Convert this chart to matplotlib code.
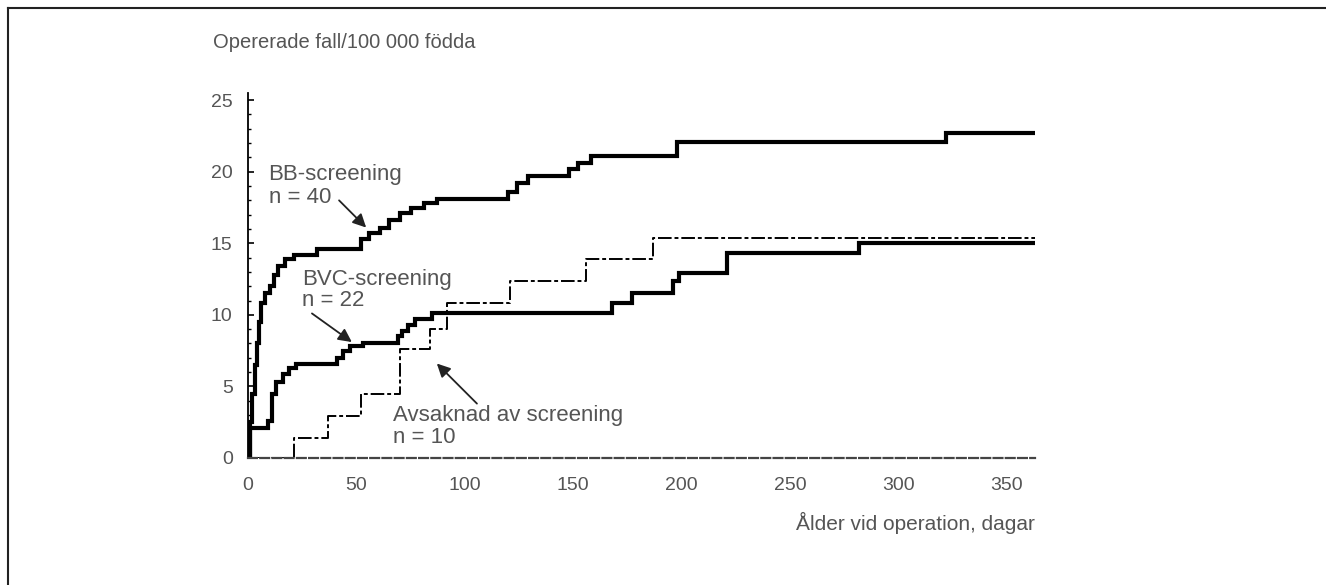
import matplotlib
matplotlib.use("Agg")
import matplotlib.pyplot as plt
from matplotlib.lines import Line2D
from matplotlib.ticker import MultipleLocator

# cumulative number of operated cases per 100 000 births, by age at operation (days)
bb_days = [0, 1, 2, 3, 4, 5, 6, 8, 10, 12, 14, 17, 21, 32, 52, 56, 61, 65, 70, 75,
           81, 87, 120, 124, 129, 148, 152, 158, 198, 322, 363]
bb_vals = [0, 2.5, 4.5, 6.5, 8.0, 9.5, 10.8, 11.5, 12.0, 12.8, 13.4, 13.9, 14.2, 14.6, 15.3, 15.7,
           16.1, 16.6, 17.1, 17.5, 17.8, 18.1, 18.6, 19.2, 19.7, 20.2, 20.6, 21.1, 22.1, 22.7, 22.7]

bvc_days = [0, 1, 9, 11, 13, 16, 19, 22, 41, 44, 47, 53, 69, 71, 74, 77, 85,
            168, 177, 196, 199, 221, 282, 363]
bvc_vals = [0, 2.1, 2.6, 4.5, 5.3, 5.9, 6.3, 6.6, 7.0, 7.5, 7.8, 8.0, 8.5, 8.9, 9.3, 9.7, 10.1,
            10.8, 11.5, 12.4, 12.9, 14.3, 15.0, 15.0]

avs_days = [0, 21, 37, 52, 70, 84, 92, 121, 156, 187, 363]
avs_vals = [0, 1.4, 2.9, 4.5, 7.6, 9.0, 10.8, 12.4, 13.9, 15.4, 15.4]

y_ticks = [0, 5, 10, 15, 20, 25]
x_ticks = [0, 50, 100, 150, 200, 250, 300, 350]

ylabel = "Opererade fall/100 000 födda"
xlabel = "Ålder vid operation, dagar"

grey = "#555555"
plt.rcParams["font.family"] = ["Liberation Sans", "DejaVu Sans"]

W, H = 1326, 585
fig = plt.figure(figsize=(W / 100, H / 100), dpi=100)
# axes placed in pixels: x=0 at 248, y=0 at 458
ax = fig.add_axes([248 / W, (H - 458) / H, 787 / W, 365 / H])

ax.step(bb_days, bb_vals, where="post", color="black", lw=3.0, solid_joinstyle="miter")
ax.step(bvc_days, bvc_vals, where="post", color="black", lw=3.0, solid_joinstyle="miter")
ax.step(avs_days, avs_vals, where="post", color="black", lw=1.4, linestyle=(0, (7, 1.5, 2, 1.5)))

ax.set_xlim(0, 363)
ax.set_ylim(0, 25.5)
ax.set_xticks(x_ticks)
ax.set_yticks(y_ticks)
ax.yaxis.set_minor_locator(MultipleLocator(1))

for s in ["top", "right"]:
    ax.spines[s].set_visible(False)
ax.spines["left"].set_linewidth(1.3)
ax.spines["bottom"].set_color("#444444")
ax.spines["bottom"].set_linewidth(1.6)
ax.spines["bottom"].set_linestyle((0, (4, 1.5)))

ax.tick_params(axis="x", length=0, pad=14, labelsize=14, labelcolor=grey)
ax.tick_params(axis="y", which="major", direction="in", length=4, width=1.2, pad=11,
               labelsize=14, labelcolor=grey)
ax.tick_params(axis="y", which="minor", direction="in", length=2.5, width=1.0)

# curve labels
txt = dict(fontsize=16, color=grey, ha="left", va="center")
ax.text(9.5, 19.8, "BB-screening", **txt)
ax.text(9.5, 18.2, "n = 40", **txt)
ax.text(25, 12.5, "BVC-screening", **txt)
ax.text(25, 11.0, "n = 22", **txt)
ax.text(67, 3.0, "Avsaknad av screening", **txt)
ax.text(67, 1.4, "n = 10", **txt)

arrow = dict(arrowstyle="-|>", color="#222222", lw=1.3, mutation_scale=20, shrinkA=0, shrinkB=0)
ax.annotate("", xy=(54.5, 16.1), xytext=(42.0, 18.0), arrowprops=arrow)
ax.annotate("", xy=(47.9, 8.1), xytext=(29.5, 10.1), arrowprops=arrow)
ax.annotate("", xy=(87.1, 6.6), xytext=(105.6, 3.8), arrowprops=arrow)

fig.text(213 / W, 1 - 43 / H, ylabel, fontsize=14.5, color=grey, ha="left", va="center")
fig.text(1035 / W, 1 - 523 / H, xlabel, fontsize=15, color=grey, ha="right", va="center")

# frame lines of the original page
fig.add_artist(Line2D([8 / W, 1], [1 - 8 / H, 1 - 8 / H], color="#222222", lw=1.5))
fig.add_artist(Line2D([8 / W, 8 / W], [0, 1 - 8 / H], color="#222222", lw=1.5))

fig.savefig("out.png", dpi=100)
